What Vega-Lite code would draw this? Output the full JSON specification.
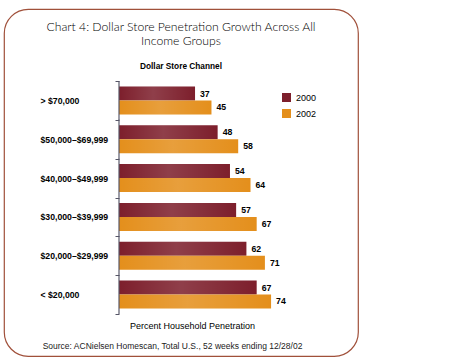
{
  "$schema": "https://vega.github.io/schema/vega-lite/v6.json",
  "autosize": "none",
  "width": 354,
  "height": 347,
  "padding": {"left": 4, "top": 9, "right": 112, "bottom": 6},
  "background": "white",
  "config": {
    "view": {"stroke": "#a0503a", "strokeWidth": 1.2, "cornerRadius": 24},
    "font": "Liberation Sans"
  },
  "title": {
    "text": ["Chart 4: Dollar Store Penetration Growth Across All", "Income Groups"],
    "subtitle": "Dollar Store Channel",
    "anchor": "middle",
    "frame": "group",
    "font": "Lato",
    "fontSize": 12.2,
    "fontWeight": 300,
    "lineHeight": 13.5,
    "color": "#000000",
    "subtitleFont": "Liberation Sans",
    "subtitleFontSize": 8.3,
    "subtitleFontWeight": "bold",
    "subtitleColor": "#000000",
    "subtitlePadding": 15,
    "dy": 69
  },
  "data": {
    "values": [
      {"group": "> $70,000", "year": "2000", "value": 37},
      {"group": "> $70,000", "year": "2002", "value": 45},
      {"group": "$50,000–$69,999", "year": "2000", "value": 48},
      {"group": "$50,000–$69,999", "year": "2002", "value": 58},
      {"group": "$40,000–$49,999", "year": "2000", "value": 54},
      {"group": "$40,000–$49,999", "year": "2002", "value": 64},
      {"group": "$30,000–$39,999", "year": "2000", "value": 57},
      {"group": "$30,000–$39,999", "year": "2002", "value": 67},
      {"group": "$20,000–$29,999", "year": "2000", "value": 62},
      {"group": "$20,000–$29,999", "year": "2002", "value": 71},
      {"group": "< $20,000", "year": "2000", "value": 67},
      {"group": "< $20,000", "year": "2002", "value": 74}
    ]
  },
  "encoding": {
    "y": {
      "field": "group",
      "type": "nominal",
      "sort": ["> $70,000", "$50,000–$69,999", "$40,000–$49,999", "$30,000–$39,999", "$20,000–$29,999", "< $20,000"],
      "scale": {"type": "band", "paddingInner": 0, "paddingOuter": 0, "range": [72.1, 304.9]},
      "axis": {
        "orient": "left",
        "offset": -115,
        "domain": false,
        "ticks": true,
        "tickBand": "extent",
        "tickSize": 4,
        "tickColor": "#555566",
        "grid": false,
        "labelAlign": "left",
        "labelPadding": 75,
        "labelFont": "Liberation Sans",
        "labelFontSize": 8.7,
        "labelFontWeight": "bold",
        "labelColor": "#000000",
        "title": "Source: ACNielsen Homescan, Total U.S., 52 weeks ending 12/28/02",
        "titleAngle": 0,
        "titleAlign": "center",
        "titleBaseline": "alphabetic",
        "titleX": 53,
        "titleY": 339,
        "titleFont": "Liberation Sans",
        "titleFontSize": 8.5,
        "titleFontWeight": "normal",
        "titleColor": "#222222"
      }
    }
  },
  "layer": [
    {
      "mark": {"type": "bar"},
      "encoding": {
        "x": {
          "field": "value",
          "type": "quantitative",
          "scale": {"domain": [-55.96, 116.3], "nice": false, "zero": false},
          "axis": {
            "orient": "bottom",
            "offset": -35,
            "labels": false,
            "ticks": false,
            "domain": false,
            "grid": false,
            "title": "Percent Household Penetration",
            "titlePadding": 0,
            "titleX": 188,
            "titleFont": "Liberation Sans",
            "titleFontSize": 9,
            "titleFontWeight": "normal",
            "titleColor": "#000000"
          }
        },
        "yOffset": {
          "field": "year",
          "type": "nominal",
          "scale": {"paddingInner": 0, "paddingOuter": 0.386}
        },
        "color": {
          "field": "year",
          "type": "nominal",
          "scale": {"domain": ["2000", "2002"], "range": ["#7d1f2c", "#e48f1c"]},
          "legend": {
            "orient": "none",
            "legendX": 278,
            "legendY": 84,
            "title": null,
            "padding": 0,
            "symbolType": "square",
            "symbolSize": 81,
            "symbolStrokeWidth": 0,
            "labelFont": "Liberation Sans",
            "labelFontSize": 9,
            "labelColor": "#000000",
            "labelOffset": 5,
            "rowPadding": 6
          }
        }
      }
    },
    {
      "mark": {
        "type": "bar",
        "color": {
          "gradient": "linear",
          "x1": 0, "x2": 1, "y1": 0, "y2": 0,
          "stops": [
            {"offset": 0, "color": "rgba(255,255,255,0)"},
            {"offset": 0.45, "color": "rgba(255,255,255,0.14)"},
            {"offset": 1, "color": "rgba(255,255,255,0)"}
          ]
        }
      },
      "encoding": {
        "x": {"field": "value", "type": "quantitative"},
        "yOffset": {"field": "year", "type": "nominal"}
      }
    },
    {
      "mark": {"type": "text", "align": "left", "baseline": "middle", "dx": 5, "font": "Liberation Sans", "fontSize": 8.7, "fontWeight": "bold", "color": "#000000"},
      "encoding": {
        "x": {"field": "value", "type": "quantitative"},
        "yOffset": {"field": "year", "type": "nominal"},
        "text": {"field": "value", "type": "quantitative"}
      }
    },
    {
      "mark": {"type": "tick", "orient": "vertical", "size": 39, "thickness": 1, "color": "#555566"},
      "encoding": {
        "x": {"datum": 0}
      }
    }
  ]
}
